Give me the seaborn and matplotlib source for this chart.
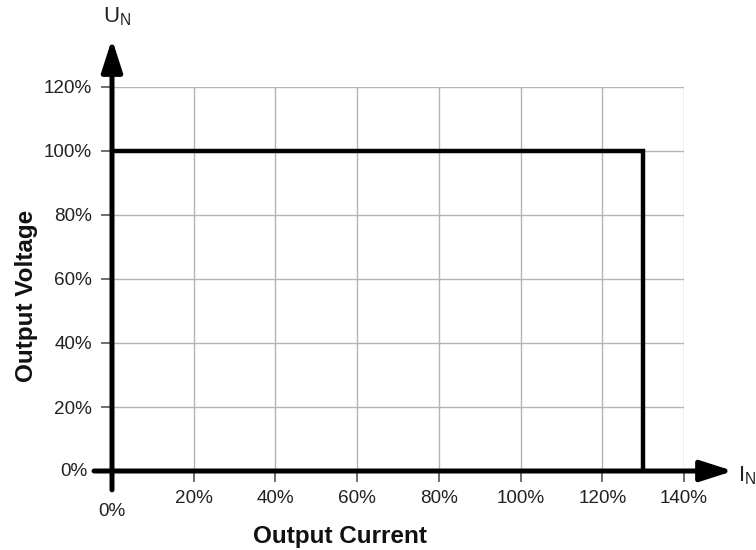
import matplotlib
matplotlib.use("Agg")
import matplotlib.pyplot as plt
import seaborn as sns

# output characteristic: rated voltage up to 130% current, then cut off
current = [0, 130, 130]
voltage = [100, 100, 0]

x_ticks = [0, 20, 40, 60, 80, 100, 120, 140]
y_ticks = [0, 20, 40, 60, 80, 100, 120]

sns.set_style("white")
plt.rcParams['font.family'] = ['Liberation Sans', 'DejaVu Sans']

fig = plt.figure(figsize=(7.56, 5.5), dpi=100)
ax = fig.add_axes([112 / 756, 1 - 471 / 550, (684 - 112) / 756, (471 - 87) / 550])
ax.set_xlim(0, 140)
ax.set_ylim(0, 120)

# grid
ax.set_xticks(x_ticks)
ax.set_yticks(y_ticks)
ax.grid(True, color='#b4b4b4', lw=1)
for s in ax.spines.values():
    s.set_visible(False)

fs = 13.6
ax.set_xticklabels(['' if v == 0 else f'{v}%' for v in x_ticks], fontsize=fs, color='#222222')
ax.set_yticklabels([f'{v}%' for v in y_ticks], fontsize=fs, color='#222222')
ax.tick_params(axis='both', bottom=True, left=True, length=8, width=1.2, color='#555555',
               direction='out')
ax.tick_params(axis='x', pad=5.5)
ax.tick_params(axis='y', pad=6.5)

# the 0% y label sits a little further left, clear of the arrow tail
for lab in ax.get_yticklabels():
    if lab.get_text() == '0%':
        lab.set_visible(False)
ax.text(-6.0, 0, '0%', ha='right', va='center', fontsize=fs, color='#222222')
ax.text(0, -12.5, '0%', ha='center', va='center', fontsize=fs, color='#222222')

# axes with arrows
arrow = dict(arrowstyle='-|>,head_length=1.4,head_width=0.45', lw=3.6, color='black',
             shrinkA=0, shrinkB=0, mutation_scale=14)
ax.annotate('', xy=(152, 0), xytext=(-4.4, 0), xycoords='data', arrowprops=arrow,
            annotation_clip=False)
ax.annotate('', xy=(0, 135), xytext=(0, -5.9), xycoords='data', arrowprops=arrow,
            annotation_clip=False)

sns.lineplot(x=current, y=voltage, sort=False, estimator=None, color='black', lw=3.2, ax=ax)
for l in ax.lines:
    l.set_solid_joinstyle('miter')

ax.text(-2.2, 142, r'U$_\mathregular{N}$', ha='left', va='center', fontsize=16, color='#222222')
ax.text(153.3, -1.5, r'I$_\mathregular{N}$', ha='left', va='center', fontsize=16, color='#222222')

fig.text(340 / 756, 1 - 536 / 550, 'Output Current', ha='center', va='center',
         fontsize=17.5, fontweight='bold', color='#111111')
fig.text(27 / 756, 1 - 296 / 550, 'Output Voltage', ha='center', va='center', rotation=90,
         fontsize=17.5, fontweight='bold', color='#111111')

fig.savefig('out.png', dpi=100)
